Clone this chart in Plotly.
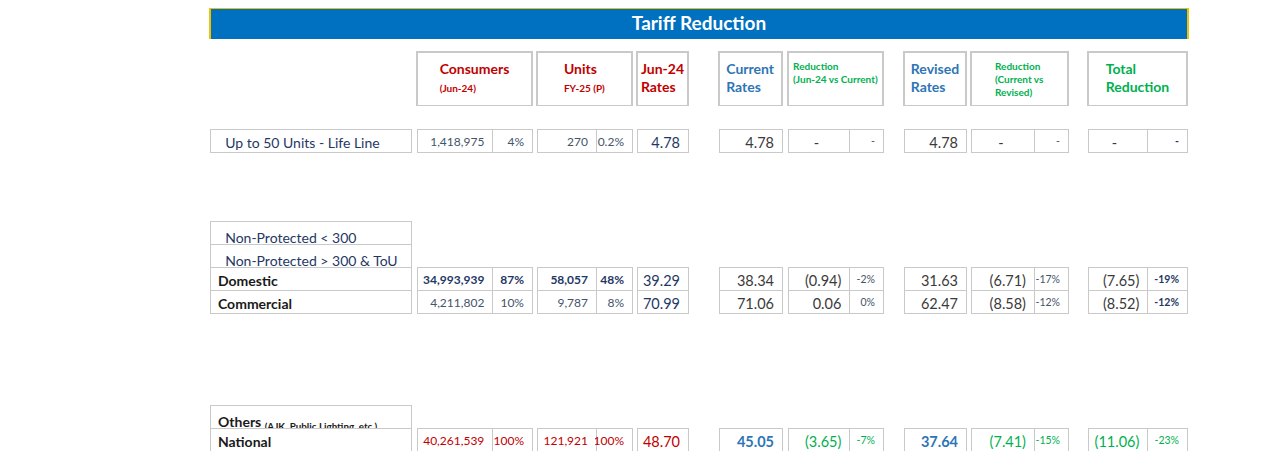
import plotly.graph_objects as go

W, H = 1280, 469
OFF = 8  # the page body adds an 8px margin around the figure

# ---- data ----
labels = ["Up to 50 Units - Life Line", "51-100 units - Life Line", "01-100 Units - Protected",
          "101-200 Units - Protected", "Non-Protected < 300", "Non-Protected > 300 & ToU",
          "Domestic", "Commercial", "General Services", "Industrial", "Bulk",
          "Agricultural", "Others", "National"]
others_note = "(AJK, Public Lighting, etc.)"
n_sub = 6  # first rows are the domestic slabs

consumers = [1418975, 508918, 7462890, 10257189, 10123533, 5222434, 34993939,
             4211802, 251861, 402885, 4538, 382619, 13895, 40261539]
consumer_share = ["4%", "1%", "19%", "25%", "25%", "13%", "87%",
                  "10%", "1%", "1%", "0.01%", "1%", "0.03%", "100%"]
units = [270, 505, 11787, 3797, 23714, 17984, 58057,
         9787, 4189, 32042, 3856, 10798, 3191, 121921]
unit_share = ["0.2%", "0.4%", "10%", "3%", "19%", "15%", "48%",
              "8%", "3%", "26%", "3%", "9%", "3%", "100%"]
jun24_rates = [4.78, 9.37, 19.37, 22.16, 42.14, 56.27, 39.29,
               70.99, 57.19, 58.50, 57.83, 43.38, 57.09, 48.70]
current_rates = [4.78, 9.37, 14.67, 17.65, 41.26, 55.70, 38.34,
                 71.06, 56.66, 48.19, 55.05, 41.76, 39.68, 45.05]
red_current = [None, None, -4.71, -4.50, -0.88, -0.57, -0.94,
               0.06, -0.53, -10.30, -2.79, -1.63, -17.41, -3.65]
red_current_pct = [None, None, "-24%", "-20%", "-2%", "-1%", "-2%",
                   "0%", "-1%", "-18%", "-5%", "-4%", "-30%", "-7%"]
revised_rates = [4.78, 9.37, 8.52, 11.51, 34.03, 48.46, 31.63,
                 62.47, 49.48, 40.51, 47.87, 34.58, 32.69, 37.64]
red_revised = [None, None, -6.14, -6.14, -7.24, -7.24, -6.71,
               -8.58, -7.18, -7.69, -7.18, -7.18, -6.99, -7.41]
red_revised_pct = [None, None, "-32%", "-28%", "-17%", "-13%", "-17%",
                   "-12%", "-13%", "-13%", "-12%", "-17%", "-12%", "-15%"]
total_red = [None, None, -10.85, -10.65, -8.12, -7.81, -7.65,
             -8.52, -7.71, -17.99, -9.96, -8.81, -24.40, -11.06]
total_red_pct = [None, None, "-56%", "-48%", "-19%", "-14%", "-19%",
                 "-12%", "-13%", "-31%", "-17%", "-20%", "-43%", "-23%"]

# ---- colours ----
GRID = "#C9C9C9"
NAVY = "#1F3864"
SLATE = "#44546A"
DARK = "#3A3A3A"
RED = "#C00000"
BLUE = "#2E75B6"
GREEN = "#00B050"
FONT = "Lato"

N = len(labels)
NAT = N - 1
DOM = labels.index("Domestic")
OTH = labels.index("Others")
# row blocks drawn as separate tables so each block can have its own weight
BLOCKS = [(0, n_sub), (DOM, DOM + 1), (DOM + 1, NAT), (NAT, N)]
# label column: rows holding markup (< > & or the small note) get their own block
LABEL_BLOCKS = [(0, 4), (4, 5), (5, 6), (DOM, DOM + 1), (DOM + 1, OTH),
                (OTH, OTH + 1), (NAT, N)]

ROW_TOP, ROW_H = 129, 23
NB = "\u00a0"
FW, FH = W - OFF, H - OFF

fig = go.Figure()


def dom(x0, x1, y0, y1):
    return dict(x=[(x0 - OFF) / FW, (x1 - OFF) / FW],
                y=[max(0, 1 - (y1 - OFF) / FH), min(1, 1 - (y0 - OFF) / FH)])


def money(v):
    if v is None:
        return "-" + NB * 6   # dash sits mid-cell in the source
    return f"({abs(v):.2f})" if v < 0 else f"{v:.2f}"


def pct(v):
    return "-" if v is None else v


def per_row(normal, dom_c=None, nat_c=None):
    out = [normal] * N
    if dom_c is not None:
        out[DOM] = dom_c
    if nat_c is not None:
        out[NAT] = nat_c
    return out


def box(x0, x1, y0, y1, texts, widths, sizes, colors, weights, align,
        fill="white", line=None, rows=0):
    # first row goes in the table header (an empty header would still take space)
    line = line or dict(color=GRID, width=1)
    first = [t[0] for t in texts]
    rest = [t[1:] for t in texts] if rows else []
    return go.Table(
        domain=dom(x0, x1, y0, y1),
        columnwidth=widths,
        header=dict(values=first, height=y1 - y0 - rows * ROW_H, align=align,
                    fill_color=fill, line=line,
                    font=dict(family=FONT, size=sizes, color=[c[0] for c in colors],
                              weight=weights)),
        cells=dict(values=rest, height=ROW_H, align=align, fill_color=fill, line=line,
                   font=dict(family=FONT, size=sizes, color=[c[1:] for c in colors],
                             weight=weights)),
    )


def body(x0, x1, cols, widths, sizes, colors, weights, align="right", blocks=BLOCKS):
    for r0, r1 in blocks:
        fig.add_trace(box(x0, x1, ROW_TOP + r0 * ROW_H, ROW_TOP + r1 * ROW_H,
                          [c[r0:r1] for c in cols], widths, sizes,
                          [c[r0:r1] for c in colors], [w[r0] for w in weights],
                          align, rows=r1 - r0 - 1))


def head_box(x0, x1, text, color, size):
    fig.add_trace(box(x0, x1, 52, 106, [[text]], [1], [size], [[color]], ["bold"],
                      "center", line=dict(color=GRID, width=1.5)))


# title bar
fig.add_trace(box(210, 1188, 8, 40, [["Tariff Reduction"]], [1], [19], [["white"]], ["bold"],
                  "center", fill="#0070C0", line=dict(color="#F2C200", width=2.5)))

# header boxes
small = "<span style='font-size:10px'>%s</span>"
head_box(417, 532, "Consumers<br>" + small % "(Jun-24)", RED, 14)
head_box(537, 632, "Units<br>" + small % "FY-25 (P)", RED, 14)
head_box(637, 689, "Jun-24<br>Rates", RED, 14)
head_box(719, 783, "Current<br>Rates", BLUE, 14)
head_box(788, 884, "Reduction<br>(Jun-24 vs Current)", GREEN, 10)
head_box(904, 966, "Revised<br>Rates", BLUE, 14)
head_box(971, 1068, "Reduction<br>(Current vs<br>Revised)", GREEN, 10)
head_box(1088, 1188, "Total<br>Reduction", GREEN, 14)

# row labels (non-breaking spaces keep the table from wrapping them)
label_txt = []
for i, lab in enumerate(labels):
    lab = lab.replace(" ", NB)
    if i < n_sub:
        lab = NB * 2 + lab
    elif i == OTH:
        lab = lab + NB + "<sub>" + others_note.replace(" ", NB) + "</sub>"
    label_txt.append(lab)
label_col = ["#1a1a1a"] * N
label_col[:n_sub] = [NAVY] * n_sub
label_wt = ["normal"] * n_sub + ["bold"] * (N - n_sub)
body(210, 411, [label_txt], [1], [14], [label_col], [label_wt], align="left",
     blocks=LABEL_BLOCKS)

plain = ["normal"] * N
bold_dom = per_row("normal", "bold")

# consumers / units
body(417, 532, [[f"{v:,}" for v in consumers], consumer_share], [76, 40], [12, 12],
     [per_row(SLATE, NAVY, RED), per_row(SLATE, NAVY, RED)], [bold_dom, bold_dom])
body(537, 632, [[f"{v:,}" for v in units], unit_share], [59, 36], [12, 12],
     [per_row(SLATE, NAVY, RED), per_row(SLATE, NAVY, RED)], [bold_dom, bold_dom])

# rates
body(637, 689, [[f"{v:.2f}" for v in jun24_rates]], [1], [14.5],
     [per_row(NAVY, None, RED)], [plain])
body(719, 783, [[f"{v:.2f}" for v in current_rates]], [1], [14.5],
     [per_row(DARK, None, BLUE)], [per_row("normal", None, "bold")])
body(904, 966, [[f"{v:.2f}" for v in revised_rates]], [1], [14.5],
     [per_row(DARK, None, BLUE)], [per_row("normal", None, "bold")])


def red_pair(x0, x1, vals, pcts, widths, pct_bold=False):
    v_txt = [money(v) for v in vals]
    p_txt = [pct(p) for p in pcts]
    p_wt = per_row("bold", None, "normal") if pct_bold else plain
    body(x0, x1, [v_txt, p_txt], widths, [14.5, 10.5],
         [per_row(DARK, None, GREEN), per_row(NAVY if pct_bold else SLATE, None, GREEN)],
         [plain, p_wt])


red_pair(788, 884, red_current, red_current_pct, [62, 34])
red_pair(971, 1068, red_revised, red_revised_pct, [63, 34])
red_pair(1088, 1188, total_red, total_red_pct, [60, 40], pct_bold=True)

fig.update_layout(width=FW, height=FH, margin=dict(l=0, r=0, t=0, b=0),
                  paper_bgcolor="white", plot_bgcolor="white")

fig.write_html("out.html")
